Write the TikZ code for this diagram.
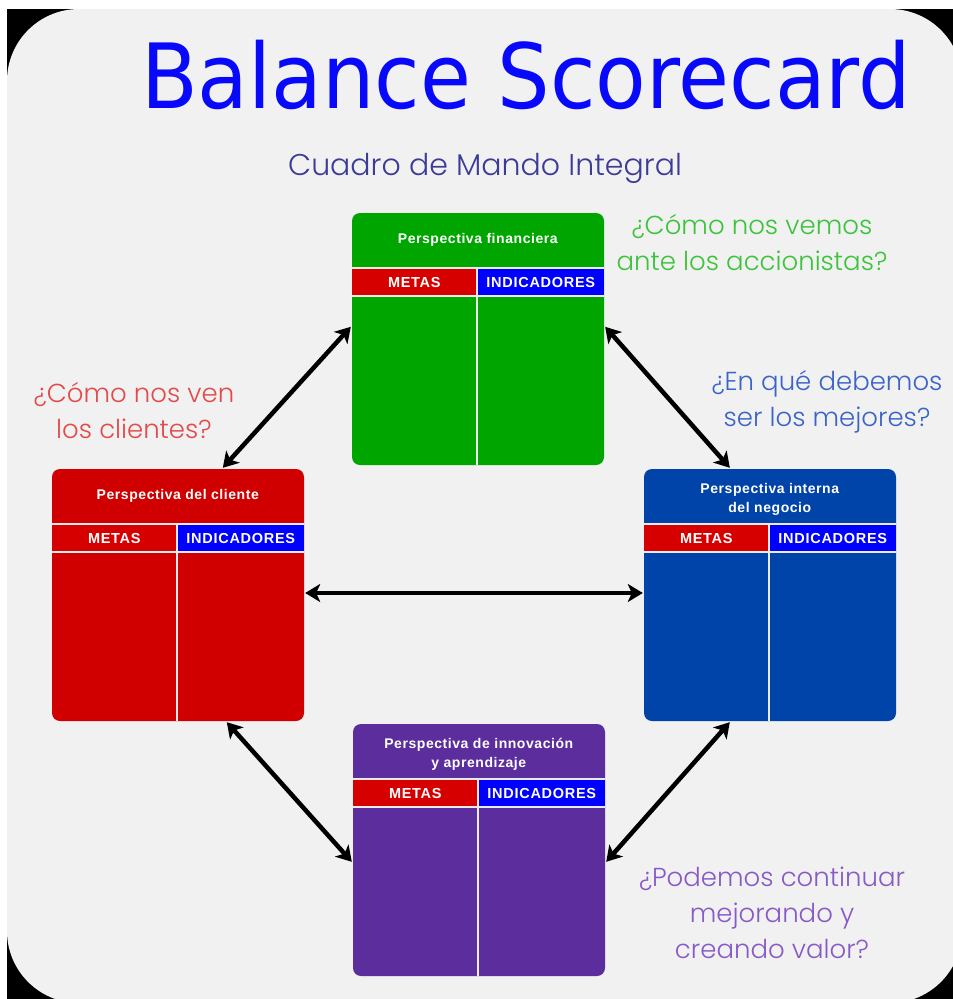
\documentclass[tikz,border=0pt]{standalone}
\usepackage{fontspec}
\usepackage{graphicx}
\setmainfont{Liberation Sans}
\newfontfamily\titlefont{DejaVu Sans}
\newfontfamily\qfont{Poppins Light}
\newfontfamily\cardfont[LetterSpace=4]{Liberation Sans}
\newfontfamily\bandfont[LetterSpace=5]{Liberation Sans}
\usetikzlibrary{arrows.meta,calc}
\definecolor{bggrey}{RGB}{241,241,241}
\definecolor{titleblue}{RGB}{8,8,250}
\definecolor{subblue}{RGB}{60,60,150}
\definecolor{cardgreen}{RGB}{0,165,0}
\definecolor{cardred}{RGB}{208,0,0}
\definecolor{cardblue}{RGB}{0,68,170}
\definecolor{cardpurple}{RGB}{92,45,156}
\definecolor{metasred}{RGB}{214,0,0}
\definecolor{indblue}{RGB}{0,0,255}
\definecolor{qgreen}{RGB}{60,195,60}
\definecolor{qred}{RGB}{225,75,75}
\definecolor{qblue}{RGB}{60,100,200}
\definecolor{qpurple}{RGB}{135,90,200}
\tikzset{
  card/.style={minimum width=252pt, minimum height=252pt, inner sep=0pt,
    rounded corners=8pt, draw=none},
  sepline/.style={draw=white!92!black, line width=1.5pt},
  cardtitle/.style={text=white, align=center, inner sep=0pt,
    font=\cardfont\fontsize{14}{19}\selectfont\bfseries},
  bandtxt/.style={text=white, inner sep=0pt,
    font=\bandfont\fontsize{14.5}{14.5}\selectfont\bfseries},
  question/.style={align=center, inner sep=0pt,
    font=\qfont\fontsize{26}{36}\selectfont},
  biarrow/.style={line width=4.5pt, black,
    {Stealth[length=15pt,width=18pt,inset=4pt]}-{Stealth[length=15pt,width=18pt,inset=4pt]}},
}
\newcommand{\scard}[5]{%
  \node[card, fill=#3] (#1) at (#2) {};
  \fill[metasred] ($(#1.north west)+(0,55)$) rectangle ($(#1.north west)+(125,83)$);
  \fill[indblue] ($(#1.north west)+(125,55)$) rectangle ($(#1.north east)+(0,83)$);
  \draw[sepline] ($(#1.north west)+(0,55)$) -- ($(#1.north east)+(0,55)$);
  \draw[sepline] ($(#1.north west)+(0,83)$) -- ($(#1.north east)+(0,83)$);
  \draw[sepline] ($(#1.north west)+(125,55)$) -- ($(#1.south west)+(125,0)$);
  \node[cardtitle] (#1-t) at ($(#1.north west)+(126,#5)$) {#4};
  \node[bandtxt] (#1-m) at ($(#1.north west)+(62.5,69.5)$) {METAS};
  \node[bandtxt] (#1-i) at ($(#1.north west)+(189,69.5)$) {INDICADORES};
}
\begin{document}
\begin{tikzpicture}[x=1pt,y=-1pt]
\useasboundingbox (0,0) rectangle (953,999);
\clip (0,0) rectangle (953,999);
\fill[white] (0,0) rectangle (953,999);
\fill[black] (7,9) rectangle (953,999);
\fill[bggrey, rounded corners=72pt] (7,9) rectangle (962,1003);

\node[anchor=base, inner sep=0pt, text=titleblue,
  font=\titlefont\fontsize{90}{90}\selectfont] (title) at (526,108)
  {\scalebox{0.92}[1]{Balance Scorecard}};
\node[anchor=base, inner sep=0pt, text=subblue,
  font=\qfont\fontsize{30}{30}\selectfont] (subtitle) at (485,175)
  {Cuadro de Mando Integral};

\scard{fin}{478,339}{cardgreen}{Perspectiva financiera}{27.5}
\scard{cli}{178,595}{cardred}{Perspectiva del cliente}{27.5}
\scard{int}{770,595}{cardblue}{Perspectiva interna\\del negocio}{31}
\scard{inn}{479,850}{cardpurple}{Perspectiva de innovación\\y aprendizaje}{31}

\node[question, text=qgreen] (qfin) at (752,243) {¿Cómo nos vemos\\ante los accionistas?};
\node[question, text=qred] (qcli) at (134,411) {¿Cómo nos ven\\los clientes?};
\node[question, text=qblue] (qint) at (827,402) {¿En qué debemos\\ser los mejores?};
\node[question, text=qpurple] (qinn) at (772,913) {¿Podemos continuar\\mejorando y\\creando valor?};

\draw[biarrow] ($(cli.north west)+(171,-1)$) -- ($(fin.north west)+(-1,114)$);
\draw[biarrow] ($(fin.north east)+(1,114)$) -- ($(int.north west)+(86,-1)$);
\draw[biarrow] ($(cli.south west)+(175,1)$) -- ($(inn.north west)+(-1,138)$);
\draw[biarrow] ($(int.south west)+(86,1)$) -- ($(inn.north east)+(1,138)$);
\draw[biarrow] ($(cli.east)+(1,-2)$) -- ($(int.west)+(-1,-2)$);
\end{tikzpicture}
\end{document}
